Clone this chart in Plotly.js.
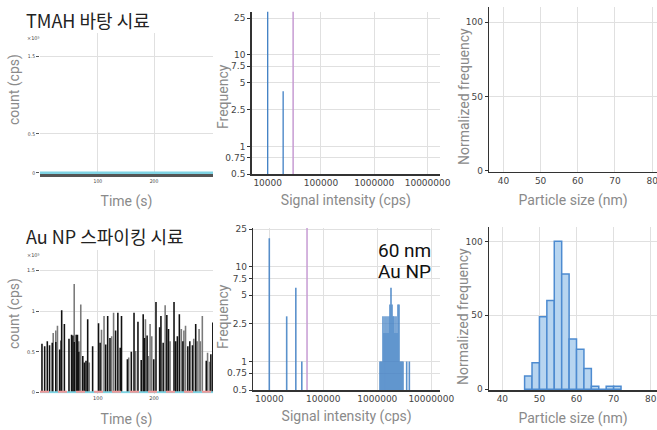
<!DOCTYPE html>
<html><head><meta charset="utf-8">
<script src="https://cdn.plot.ly/plotly-3.0.1.min.js"></script>
<style>html,body{margin:0;padding:0;background:#fff}#chart{width:657px;height:430px}
#chart .xtick text, #chart .ytick text {font-stretch: condensed;}
</style>
</head><body><div id="chart"></div>
<script>
// ---------- data ----------
// Panel A: TMAH blank time scan (near-zero signal)
const blankTimes = [3, 12, 20, 31, 38, 47, 52, 60, 66, 79, 90, 101, 112, 118, 125, 131, 140, 152, 158, 170, 182, 190, 198, 210, 221, 233, 246, 255, 262, 270, 281, 290, 298];
const blankCounts = [0.01, 0.008, 0.01, 0.012, 0.008, 0.01, 0.012, 0.01, 0.008, 0.01, 0.012, 0.01, 0.01, 0.012, 0.008, 0.01, 0.012, 0.01, 0.008, 0.01, 0.01, 0.012, 0.008, 0.01, 0.01, 0.012, 0.01, 0.008, 0.01, 0.012, 0.01, 0.008, 0.01];

// Panel D: Au NP spiked time scan, black series
const spikeTimesBlack = [0.5, 5.3, 10, 14, 18.8, 25.1, 32.1, 34.6, 35.6, 40.4, 48.6, 53.2, 55.6, 57.9, 61.4, 63.7, 66.1, 73.2, 76, 78.9, 81.9, 90.7, 101.2, 104, 114, 117.5, 121.6, 131.6, 135.6, 139.8, 142.1, 152.6, 159.6, 164.4, 171.4, 177.2, 180.7, 183, 187.7, 199.5, 203.5, 210, 212.3, 216.3, 222.8, 225.8, 235.6, 238.6, 241.6, 245.1, 251.4, 260.2, 263.7, 268.4, 274.2, 293, 301.2, 304.7];
const spikeCountsBlack = [0.60, 0.57, 0.63, 0.58, 0.61, 0.62, 0.53, 0.64, 1.01, 0.84, 0.66, 0.71, 0.70, 0.62, 0.71, 0.71, 0.50, 0.45, 0.37, 0.39, 0.90, 0.57, 0.85, 0.61, 0.59, 0.94, 0.67, 0.76, 0.98, 0.55, 0.94, 0.41, 0.50, 0.98, 0.87, 0.40, 0.96, 0.67, 0.70, 0.41, 1.11, 0.80, 0.94, 0.61, 0.95, 0.78, 1.11, 0.63, 0.69, 0.96, 0.63, 0.57, 0.63, 0.58, 0.84, 0.39, 0.47, 0.86];
// Panel D: grey series
const spikeTimesGrey = [20.5, 25.1, 28.1, 57.9, 66.1, 69.6, 84.7, 106.5, 111, 124.6, 128, 154.9, 167.2, 184.7, 190, 193, 196, 219.8, 228.6, 248.6, 253.2, 256.1, 270.7, 276.7, 280.2, 282.5, 286, 295.3, 298.8];
const spikeCountsGrey = [0.73, 0.76, 0.82, 1.33, 0.63, 1.08, 0.37, 0.77, 0.94, 0.69, 0.98, 0.43, 0.51, 0.90, 0.45, 0.84, 0.69, 1.07, 0.63, 0.78, 0.76, 0.82, 0.66, 0.63, 0.78, 0.63, 0.94, 0.49, 0.38];

// Panel B: blank signal histogram
const blankIntensity = [10000, 19500];
const blankFreq = [40, 4];
const blankThreshold = 30000;

// Panel E: spiked signal histogram
const spikeIntensity = [10000, 21000, 31000, 40000,
  1122000, 1171000, 1222000, 1275000, 1331000, 1389000, 1449000, 1512000, 1578000, 1647000,
  1718000, 1793000, 1871000, 1953000, 2038000, 2127000, 2219000, 2316000, 2416000, 2522000,
  2631000, 2746000, 2865000, 2990000, 3500000, 3920000];
const spikeFreq = [20, 3, 6, 1,
  1, 1, 1, 3, 2, 3, 2, 3, 2, 3,
  4, 6, 4, 3, 3, 2, 3, 2, 4, 4,
  1, 1, 1, 1, 1, 1];
const spikeThreshold = 50000;

// Panel F: particle size distribution
const sizeBins = [47, 49, 51, 53, 55, 57, 59, 61, 63, 65, 67, 69, 71];
const sizeFreq = [9, 18, 49, 60, 100, 78, 34, 27, 14, 2, 0, 2, 2];
const emptyBins = [];
const emptyFreq = [];

// tick labels
const timeTicks = [100, 200];
const countTicksTop = [0, 0.5, 1.5];
const countTicksBottom = [0, 0.5, 1, 1.5];
const intensityTicks = [10000, 100000, 1000000, 10000000];
const freqTicks = [0.5, 0.75, 1, 2.5, 5, 7.5, 10, 25];
const sizeTicks = [40, 50, 60, 70, 80];
const normTicks = [0, 50, 100];

// ---------- helpers ----------
function stems(xs, ys, base) {
  const X = [], Y = [];
  xs.forEach((x, i) => { X.push(x, x, null); Y.push(base, ys[i], null); });
  return {x: X, y: Y};
}
const W = 657, H = 430;
const dx = (a, b) => [a / W, b / W];
const dy = (top, bot) => [1 - bot / H, 1 - top / H];

const BLUE = '#3f7fc4';
const VIOLET = '#c79bd3';
const tickF = {family: 'DejaVu Sans', size: 9, color: '#444'};
const tickTiny = {family: 'DejaVu Sans', size: 5, color: '#444'};
const titleFont = {family: 'Roboto, Noto Sans', size: 14, color: '#8a8a8a'};
const GRID = '#e0e0e0';

const sB = stems(blankIntensity, blankFreq, 0.1);
const sE = stems(spikeIntensity, spikeFreq, 0.1);

const traces = [
  // A
  {type: 'scatter', mode: 'lines', x: [-3, 305], y: [0.004, 0.004], line: {color: '#7fd3e3', width: 2.5}, xaxis: 'x', yaxis: 'y', hoverinfo: 'skip'},
  {type: 'bar', x: blankTimes, y: blankCounts, width: 2.5, marker: {color: '#222'}, xaxis: 'x', yaxis: 'y'},
  // B
  {type: 'scatter', mode: 'lines', x: [blankThreshold, blankThreshold], y: [0.1, 100], line: {color: VIOLET, width: 1.5}, xaxis: 'x2', yaxis: 'y2'},
  {type: 'scatter', mode: 'lines', x: sB.x, y: sB.y, line: {color: BLUE, width: 1.3}, xaxis: 'x2', yaxis: 'y2'},
  // C
  {type: 'bar', x: emptyBins, y: emptyFreq, xaxis: 'x3', yaxis: 'y3'},
  // D
  {type: 'scatter', mode: 'lines', x: [-3, 305], y: [0.004, 0.004], line: {color: '#7fd3e3', width: 2}, xaxis: 'x4', yaxis: 'y4', hoverinfo: 'skip'},
  {type: 'scatter', mode: 'lines', x: [-3, 305], y: [0.012, 0.012], line: {color: '#f19a9a', width: 2, dash: 'dash'}, xaxis: 'x4', yaxis: 'y4', hoverinfo: 'skip'},
  {type: 'bar', x: spikeTimesGrey, y: spikeCountsGrey, width: 2.8, marker: {color: '#7a7a7a'}, xaxis: 'x4', yaxis: 'y4'},
  {type: 'bar', x: spikeTimesBlack, y: spikeCountsBlack, width: 2.8, marker: {color: '#111'}, xaxis: 'x4', yaxis: 'y4'},
  // E
  {type: 'scatter', mode: 'lines', x: [spikeThreshold, spikeThreshold], y: [0.1, 100], line: {color: VIOLET, width: 1.5}, xaxis: 'x5', yaxis: 'y5'},
  {type: 'scatter', mode: 'lines', x: sE.x, y: sE.y, line: {color: BLUE, width: 1.6}, opacity: 0.85, xaxis: 'x5', yaxis: 'y5'},
  // F
  {type: 'bar', x: sizeBins, y: sizeFreq, width: 2, marker: {color: '#b7d5f0', line: {color: '#4d8bd0', width: 1.5}}, xaxis: 'x6', yaxis: 'y6'}
];

function timeAxis(domain, lineOn) {
  return {domain: domain, range: [-3, 305], tickvals: timeTicks, ticktext: timeTicks.map(String),
    tickfont: tickTiny, showgrid: true, gridcolor: GRID, zeroline: false,
    showline: lineOn, linecolor: '#555', linewidth: 2.5, ticks: '',
    title: {text: 'Time (s)', font: titleFont, standoff: 14}};
}
function countAxis(domain, range, vals) {
  return {domain: domain, range: range, tickvals: vals, ticktext: vals.map(String),
    tickfont: tickTiny, showgrid: true, gridcolor: GRID, zeroline: false, showline: false,
    ticks: 'outside', ticklen: 3, tickcolor: '#555'};
}
function intensityAxis(domain, range) {
  return {type: 'log', domain: domain, range: range, tickvals: intensityTicks, ticktext: intensityTicks.map(String),
    tickfont: tickF, showgrid: true, gridcolor: GRID, zeroline: false,
    showline: true, linecolor: '#333', linewidth: 1.5, ticks: '',
    title: {text: 'Signal intensity (cps)', font: titleFont, standoff: 8}};
}
function freqAxis(domain, range) {
  return {type: 'log', domain: domain, range: range, tickvals: freqTicks, ticktext: freqTicks.map(String),
    tickfont: tickF, showgrid: true, gridcolor: GRID, zeroline: false,
    showline: true, linecolor: '#333', linewidth: 1.5, ticks: 'outside', ticklen: 3, tickcolor: '#333'};
}
function sizeAxis(domain, range) {
  return {domain: domain, range: range, tickvals: sizeTicks, ticktext: sizeTicks.map(String),
    tickfont: tickF, showgrid: true, gridcolor: GRID, zeroline: false, ticklabeloverflow: 'allow',
    showline: true, linecolor: '#333', linewidth: 1.5, ticks: '',
    title: {text: 'Particle size (nm)', font: titleFont, standoff: 10}};
}
function normAxis(domain, range) {
  return {domain: domain, range: range, tickvals: normTicks, ticktext: normTicks.map(String),
    tickfont: tickF, showgrid: true, gridcolor: GRID, zeroline: false,
    showline: true, linecolor: '#333', linewidth: 1.5, ticks: 'outside', ticklen: 3, tickcolor: '#333'};
}
function yTitle(text, cx, cy) {
  return {xref: 'paper', yref: 'paper', x: cx / W, y: 1 - cy / H, xanchor: 'center', yanchor: 'middle',
    showarrow: false, textangle: -90, text: text, font: titleFont};
}

const layout = {
  width: W, height: H, margin: {l: 0, r: 0, t: 0, b: 0},
  paper_bgcolor: '#fff', plot_bgcolor: '#fff', showlegend: false, barmode: 'overlay',
  font: {family: 'Roboto, Noto Sans CJK KR', color: '#444'},
  xaxis: Object.assign(timeAxis(dx(40, 213), true), {anchor: 'y'}),
  yaxis: Object.assign(countAxis(dy(33, 174), [-0.013, 1.795], countTicksTop), {anchor: 'x'}),
  xaxis2: Object.assign(intensityAxis(dx(251.7, 440), [3.70, 7.233]), {anchor: 'y2'}),
  yaxis2: Object.assign(freqAxis(dy(11.7, 174), [-0.301, 1.47]), {anchor: 'x2'}),
  xaxis3: Object.assign(sizeAxis(dx(489.3, 657), [36.2, 81.3]), {anchor: 'y3'}),
  yaxis3: Object.assign(normAxis(dy(6.7, 171.5), [-0.5, 110.5]), {anchor: 'x3'}),
  xaxis4: Object.assign(timeAxis(dx(40, 213), false), {anchor: 'y4'}),
  yaxis4: Object.assign(countAxis(dy(250, 393.5), [-0.01, 1.747], countTicksBottom), {anchor: 'x4'}),
  xaxis5: Object.assign(intensityAxis(dx(253.3, 440), [3.704, 7.161]), {anchor: 'y5'}),
  yaxis5: Object.assign(freqAxis(dy(228, 390), [-0.301, 1.41]), {anchor: 'x5'}),
  xaxis6: Object.assign(sizeAxis(dx(489, 657), [36.4, 81.7]), {anchor: 'y6'}),
  yaxis6: Object.assign(normAxis(dy(226.7, 390), [-0.47, 109.9]), {anchor: 'x6'}),
  annotations: [
    {xref: 'paper', yref: 'paper', x: 24 / W, y: 1 - 20 / H, xanchor: 'left', yanchor: 'middle', showarrow: false,
      text: 'TMAH 바탕 시료', font: {family: 'Noto Sans CJK KR', size: 18, color: '#222'}},
    {xref: 'paper', yref: 'paper', x: 24 / W, y: 1 - 236 / H, xanchor: 'left', yanchor: 'middle', showarrow: false,
      text: 'Au NP 스파이킹 시료', font: {family: 'Noto Sans CJK KR', size: 18, color: '#222'}},
    {xref: 'paper', yref: 'paper', x: 376 / W, y: 1 - 250 / H, xanchor: 'left', yanchor: 'middle', showarrow: false,
      text: '60 nm', font: {family: 'Roboto', size: 19, color: '#111'}},
    {xref: 'paper', yref: 'paper', x: 376 / W, y: 1 - 271 / H, xanchor: 'left', yanchor: 'middle', showarrow: false,
      text: 'Au NP', font: {family: 'Roboto', size: 19, color: '#111'}},
    {xref: 'paper', yref: 'paper', x: 33 / W, y: 1 - 38 / H, xanchor: 'center', yanchor: 'middle', showarrow: false,
      text: '×10⁵', font: {family: 'DejaVu Sans', size: 5, color: '#444'}},
    {xref: 'paper', yref: 'paper', x: 33 / W, y: 1 - 255 / H, xanchor: 'center', yanchor: 'middle', showarrow: false,
      text: '×10⁵', font: {family: 'DejaVu Sans', size: 5, color: '#444'}},
    yTitle('count (cps)', 14, 90),
    yTitle('count (cps)', 14, 314),
    yTitle('Frequency', 223, 97),
    yTitle('Frequency', 223, 317),
    yTitle('Normalized frequency', 464, 97),
    yTitle('Normalized frequency', 463, 317)
  ]
};

Plotly.newPlot('chart', traces, layout, {staticPlot: true, displayModeBar: false});
</script>
</body></html>
